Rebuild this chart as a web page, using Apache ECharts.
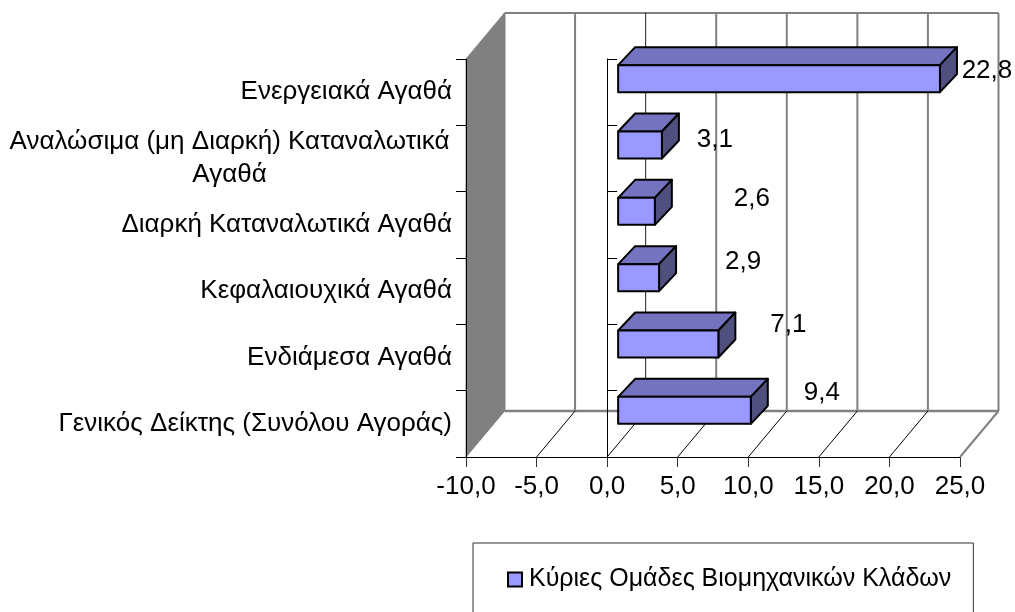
<!DOCTYPE html>
<html lang="el">

<head>
    <meta charset="utf-8">
    <title>Κύριες Ομάδες Βιομηχανικών Κλάδων</title>
    <script src="https://cdn.jsdelivr.net/npm/echarts@6/dist/echarts.min.js"></script>
</head>

<body style="margin:0;background:#fff">
    <div id="main" style="width:1015px;height:612px"></div>

    <script type="text/javascript">
        // bottom to top, same order as the y axis
        var categories = [
            'Γενικός Δείκτης (Συνόλου Αγοράς)',
            'Ενδιάμεσα Αγαθά',
            'Κεφαλαιουχικά Αγαθά',
            'Διαρκή Καταναλωτικά Αγαθά',
            'Αναλώσιμα (μη Διαρκή) Καταναλωτικά\nΑγαθά',
            'Ενεργειακά Αγαθά'
        ];
        var values = [9.4, 7.1, 2.9, 2.6, 3.1, 22.8];
        var xTicks = [-10, -5, 0, 5, 10, 15, 20, 25];
        var seriesName = 'Κύριες Ομάδες Βιομηχανικών Κλάδων';

        var FONT = '"Liberation Sans", Arial, sans-serif';
        var FONT_SIZE = 26;
        var GREY = '#808080';

        // fake 3d: how far the back wall sits from the front plane
        var DEPTH_X = 38.5, DEPTH_Y = -46;
        // bar box inside that depth
        var BAR_X = 11, BAR_Y = -13.5, BAR_H = 27, BAR_DX = 17, BAR_DY = -18;

        function comma(v) {
            return v.toFixed(1).replace('.', ',');
        }

        function renderWall(params, api) {
            var c = params.coordSys;
            var bottom = c.y + c.height;
            return {
                type: 'polygon',
                shape: {
                    points: [
                        [c.x, c.y],
                        [c.x + DEPTH_X, c.y + DEPTH_Y],
                        [c.x + DEPTH_X, bottom + DEPTH_Y],
                        [c.x, bottom]
                    ]
                },
                style: { fill: GREY, stroke: GREY, lineWidth: 1 }
            };
        }

        function renderGrid(params, api) {
            var c = params.coordSys;
            var v = api.value(0);
            var x = api.coord([v, 0])[0];
            var bottom = c.y + c.height;
            var children = [];
            // line on the back wall (the one at -10 is the wall edge)
            children.push({
                type: 'line',
                shape: { x1: x + DEPTH_X, y1: c.y + DEPTH_Y, x2: x + DEPTH_X, y2: bottom + DEPTH_Y },
                style: { stroke: v === 0 ? '#222' : GREY, lineWidth: v === 0 ? 1 : 2 }
            });
            // line on the floor
            if (v !== -10) {
                children.push({
                    type: 'line',
                    shape: { x1: x, y1: bottom, x2: x + DEPTH_X, y2: bottom + DEPTH_Y },
                    style: { stroke: v === 25 ? GREY : '#000', lineWidth: v === 25 ? 2 : 1 }
                });
            }
            if (params.dataIndex === 0) {
                var xEnd = c.x + c.width + DEPTH_X;
                children.push({
                    type: 'line',
                    shape: { x1: x + DEPTH_X, y1: c.y + DEPTH_Y, x2: xEnd, y2: c.y + DEPTH_Y },
                    style: { stroke: GREY, lineWidth: 2 }
                });
                children.push({
                    type: 'line',
                    shape: { x1: x + DEPTH_X, y1: bottom + DEPTH_Y, x2: xEnd, y2: bottom + DEPTH_Y },
                    style: { stroke: GREY, lineWidth: 2.5 }
                });
            }
            return { type: 'group', children: children };
        }

        function renderBar(params, api) {
            var end = api.coord([api.value(0), api.value(1)]);
            var start = api.coord([0, api.value(1)]);
            var x0 = start[0] + BAR_X, x1 = end[0] + BAR_X;
            var y0 = end[1] + BAR_Y - BAR_H / 2, y1 = y0 + BAR_H;
            var edge = { stroke: '#000', lineWidth: 2, lineJoin: 'round' };
            return {
                type: 'group',
                children: [
                    {
                        type: 'polygon',
                        shape: { points: [[x0, y0], [x0 + BAR_DX, y0 + BAR_DY], [x1 + BAR_DX, y0 + BAR_DY], [x1, y0]] },
                        style: Object.assign({ fill: '#7373bf' }, edge)
                    },
                    {
                        type: 'polygon',
                        shape: { points: [[x1, y0], [x1 + BAR_DX, y0 + BAR_DY], [x1 + BAR_DX, y1 + BAR_DY], [x1, y1]] },
                        style: Object.assign({ fill: '#50507f' }, edge)
                    },
                    {
                        type: 'rect',
                        shape: { x: x0, y: y0, width: x1 - x0, height: BAR_H },
                        style: Object.assign({ fill: '#9999ff' }, edge)
                    }
                ]
            };
        }

        function renderLabel(params, api) {
            // label nudges as placed by hand in the original, bottom to top
            var nudge = [[82, -31], [81, -33], [95, -29], [108, -26], [64, -19], [58, -21]][params.dataIndex];
            var p = api.coord([api.value(0), api.value(1)]);
            return {
                type: 'text',
                style: {
                    x: p[0] + nudge[0],
                    y: p[1] + nudge[1],
                    text: comma(api.value(0)),
                    fill: '#000',
                    font: FONT_SIZE + 'px ' + FONT,
                    align: 'center',
                    verticalAlign: 'middle'
                }
            };
        }

        var myChart = echarts.init(document.getElementById('main'));

        myChart.setOption({
            animation: false,
            backgroundColor: '#fff',
            textStyle: { fontFamily: FONT },
            grid: { left: 466, top: 59, width: 494, height: 398, containLabel: false },
            legend: {
                left: 473,
                top: 543,
                // box runs off the bottom of the page like the original
                padding: [24, 22, 60, 34],
                borderColor: '#333',
                borderWidth: 1,
                itemWidth: 14,
                itemHeight: 14,
                itemGap: 0,
                data: [{ name: seriesName, icon: 'rect' }],
                itemStyle: { color: '#9999ff', borderColor: '#000', borderWidth: 2 },
                textStyle: { fontSize: 25, fontFamily: FONT, color: '#000', padding: [0, 0, 0, 2] }
            },
            xAxis: {
                type: 'value',
                min: -10,
                max: 25,
                interval: 5,
                position: 'bottom',
                splitLine: { show: false },
                axisLine: { show: true, onZero: false, lineStyle: { color: '#000', width: 1 } },
                axisTick: { show: true, length: 10, lineStyle: { color: '#333' } },
                axisLabel: {
                    margin: 17,
                    fontSize: FONT_SIZE,
                    fontFamily: FONT,
                    color: '#000',
                    formatter: comma
                }
            },
            yAxis: [{
                type: 'category',
                data: categories,
                z: 3,
                axisLine: { show: true, onZero: false, lineStyle: { color: '#000', width: 1 } },
                axisTick: { show: true, length: 10, lineStyle: { color: '#000' } },
                axisLabel: {
                    margin: 14,
                    fontSize: FONT_SIZE,
                    fontFamily: FONT,
                    color: '#000',
                    interval: 0,
                    formatter: function (v) {
                        // wrapped label is centred on its longest line
                        if (v.indexOf('\n') < 0) return v;
                        return v.split('\n').map(function (s) { return '{w|' + s + '}'; }).join('\n');
                    },
                    rich: { w: { width: 445, align: 'center', fontSize: FONT_SIZE, fontFamily: FONT, lineHeight: 33 } }
                }
            }, {
                // the axis line crossing at 0
                type: 'category',
                data: categories,
                z: 3,
                axisLine: { show: true, onZero: true, lineStyle: { color: '#000', width: 1 } },
                axisTick: { show: true, length: 10, lineStyle: { color: '#000' } },
                axisLabel: { show: false }
            }],
            series: [{
                type: 'custom',
                name: 'wall',
                z: 1,
                silent: true,
                renderItem: renderWall,
                encode: { x: 0 },
                data: [[xTicks[0]]]
            }, {
                type: 'custom',
                name: 'grid',
                z: 1,
                silent: true,
                renderItem: renderGrid,
                encode: { x: 0 },
                data: xTicks.map(function (v) { return [v]; })
            }, {
                type: 'custom',
                name: seriesName,
                z: 5,
                silent: true,
                renderItem: renderBar,
                encode: { x: 0, y: 1 },
                itemStyle: { color: '#9999ff' },
                data: values.map(function (v, i) { return [v, i]; })
            }, {
                type: 'custom',
                name: 'labels',
                z: 6,
                silent: true,
                renderItem: renderLabel,
                encode: { x: 0, y: 1 },
                data: values.map(function (v, i) { return [v, i]; })
            }]
        });
    </script>
</body>

</html>
